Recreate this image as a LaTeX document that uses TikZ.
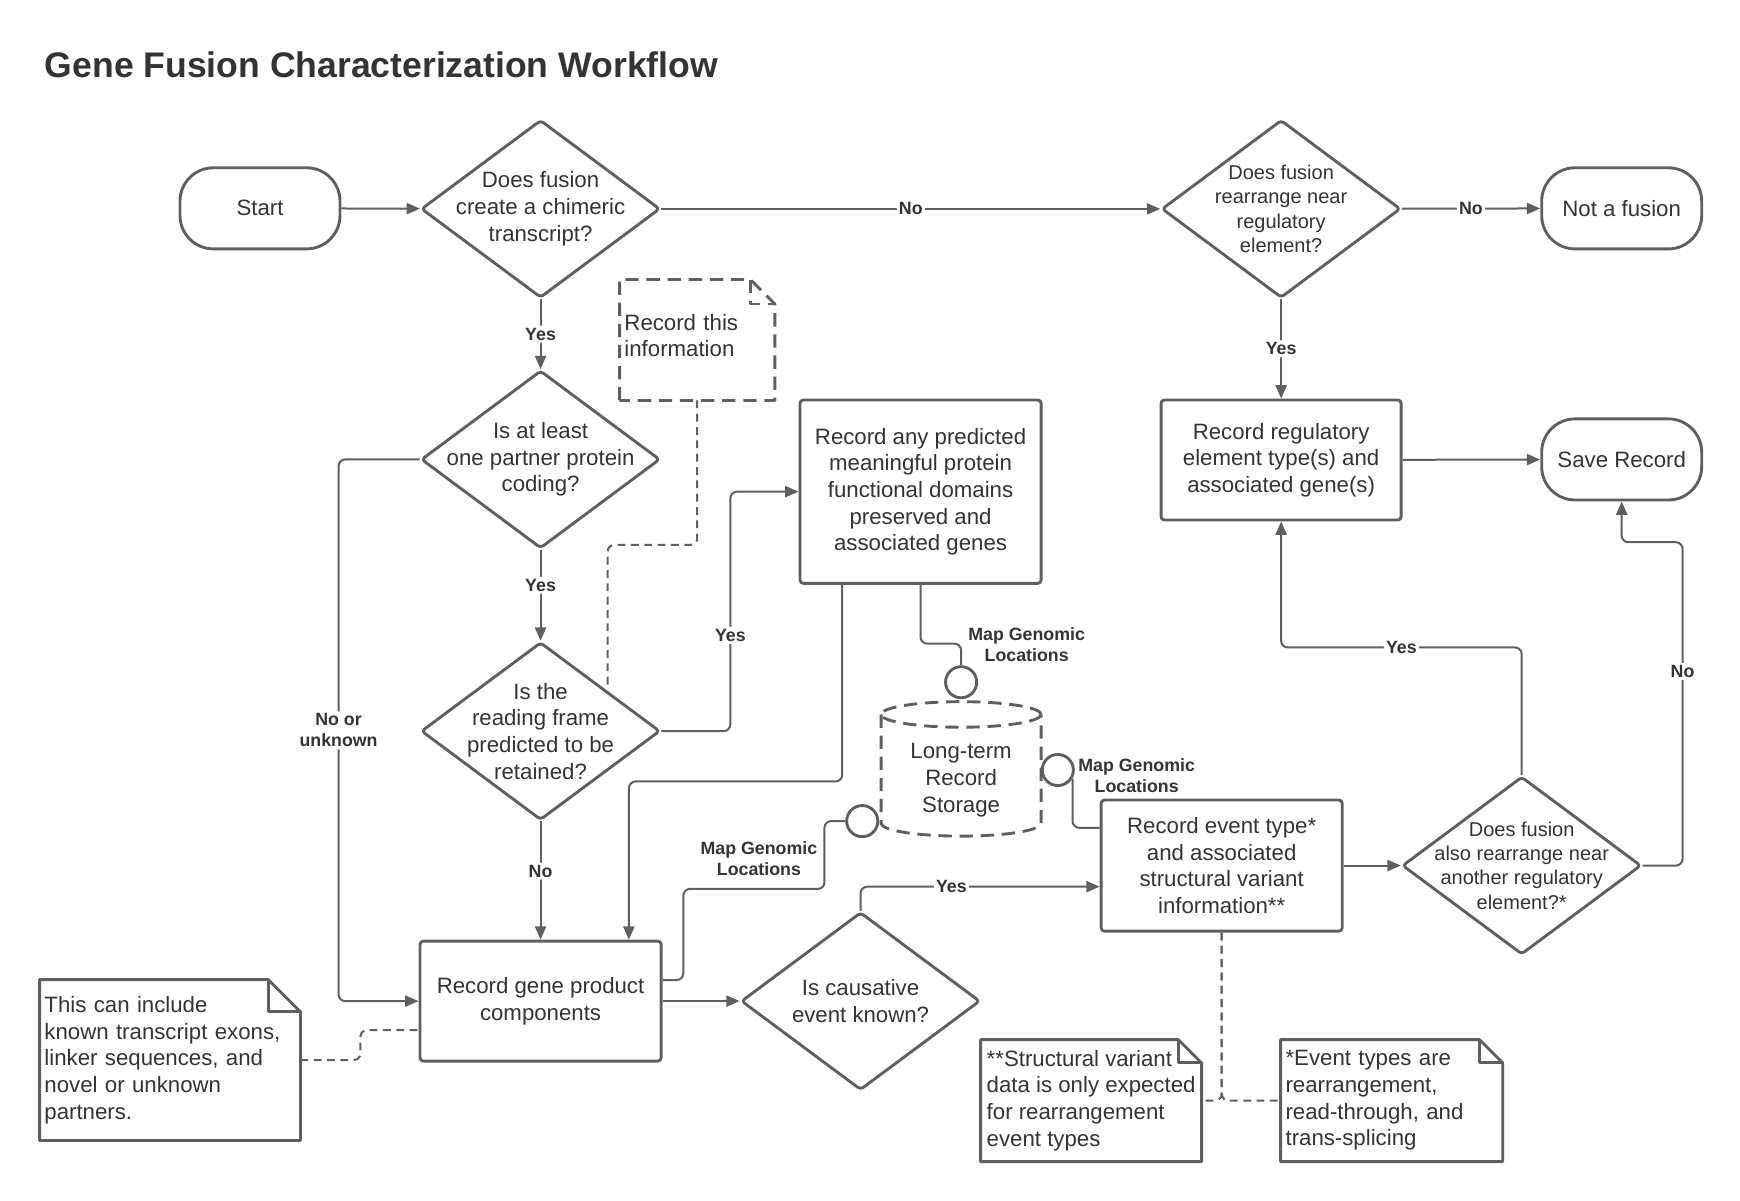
\documentclass[tikz,border=0pt]{standalone}
\usepackage{fontspec}
\setmainfont{Liberation Sans}
\usetikzlibrary{shapes.geometric,arrows.meta,positioning}

\definecolor{linegray}{HTML}{5F5F5F}
\definecolor{textgray}{HTML}{333333}

\begin{document}
\begin{tikzpicture}[x=0.5pt, y=-0.5pt, line join=round,
		every node/.style={text=textgray},
		shape_style/.style={draw=linegray, line width=1.3pt},
		process_style/.style={shape_style, rectangle, rounded corners=1.5pt, align=center, minimum width=108.5pt, font=\fontsize{10}{12}\selectfont},
		term_style/.style={shape_style, rectangle, rounded corners=15pt, minimum width=72pt, minimum height=36.5pt, font=\fontsize{10}{12}\selectfont},
		decision_style/.style={shape_style, diamond, rounded corners=1.5pt, minimum width=107.5pt, minimum height=80pt, inner sep=0pt},
		dtext/.style={align=center, font=\fontsize{10}{12}\selectfont},
		dtext_small/.style={align=center, font=\fontsize{9}{11}\selectfont},
		note_style/.style={rectangle, align=left, inner xsep=2pt, inner ysep=0pt, font=\fontsize{10}{12}\selectfont},
		edge_style/.style={draw=linegray, line width=0.9pt, rounded corners=3pt, -{Triangle[length=6pt,width=5pt]}},
		link_style/.style={draw=linegray, line width=0.9pt, rounded corners=3pt},
		dash_style/.style={draw=linegray, line width=0.9pt, dash pattern=on 3.5pt off 2.5pt, rounded corners=3pt},
		cyl_style/.style={draw=linegray, line width=1.3pt, dash pattern=on 6pt off 3.5pt},
		lbl/.style={fill=white, inner sep=1pt, font=\bfseries\fontsize{8}{9.5}\selectfont, align=center},
		port_style/.style={shape_style, circle, minimum size=14pt, inner sep=0pt, fill=white}]

		\useasboundingbox (0,0) rectangle (1566,1080);

		\node[anchor=west, inner sep=0pt, font=\bfseries\fontsize{16}{19}\selectfont] (title) at (40,58) {Gene Fusion Characterization Workflow};

		% main flow
		\node[term_style] (start) at (234,187.5) {Start};
		\node[decision_style, label={[dtext]center:{Does fusion\\create a chimeric\\transcript?}}] (chim) at (486.5,188) {};
		\node[decision_style, label={[dtext_small]center:{Does fusion\\rearrange near\\regulatory\\element?}}] (regq) at (1153,188) {};
		\node[term_style] (notfus) at (1459.5,187.5) {Not a fusion};
		\node[decision_style, label={[dtext]center:{Is at least\\one partner protein\\coding?}}] (coding) at (486.5,413.5) {};
		\node[decision_style, label={[dtext]center:{Is the\\reading frame\\predicted to be\\retained?}}] (frame) at (486.5,658) {};
		\node[process_style, minimum height=54pt] (prod) at (486.5,901) {Record gene product\\components};
		\node[process_style, minimum height=82.5pt] (domains) at (828.5,442.5) {Record any predicted\\meaningful protein\\functional domains\\preserved and\\associated genes};
		\node[process_style, minimum width=108pt, minimum height=54pt] (regrec) at (1153,414) {Record regulatory\\element type(s) and\\associated gene(s)};
		\node[term_style] (save) at (1459.5,413.5) {Save Record};
		\node[decision_style, label={[dtext]center:{Is causative\\event known?}}] (causal) at (774.5,901) {};
		\node[process_style, minimum height=59pt] (event) at (1099.5,779) {Record event type*\\and associated\\structural variant\\information**};
		\node[decision_style, label={[dtext_small]center:{Does fusion\\also rearrange near\\another regulatory\\element?*}}] (another) at (1369.5,779) {};

		% storage
		\node[align=center, font=\fontsize{10}{12}\selectfont] (store) at (865,702) {Long-term\\Record\\Storage};
		\draw[cyl_style] (865,643) ellipse [x radius=36pt, y radius=5.75pt];
		\draw[cyl_style] (793,643) -- (793,741) arc [start angle=180, end angle=360, x radius=36pt, y radius=5.75pt] -- (937,643);
		\node[port_style] (port_top) at (865,614) {};
		\node[port_style] (port_left) at (776,739) {};
		\node[port_style] (port_right) at (952,693) {};

		% notes
		\node[note_style, text width=65.5pt, minimum height=54pt] (recnote) at (627.5,306) {\raisebox{4pt}{\parbox[b]{65.5pt}{Record this\\information}}};
		\node[note_style, text width=113pt, minimum height=72pt] (incnote) at (153,954) {This can include\\known transcript exons,\\linker sequences, and\\novel or unknown\\partners.};
		\node[note_style, minimum width=99pt, minimum height=54.5pt] (svnote) at (982,990.5) {**Structural variant\\data is only expected\\for rearrangement\\event types};
		\node[note_style, text width=95.5pt, minimum height=54.5pt] (evnote) at (1252.5,990.5) {*Event types are\\rearrangement,\\read-through, and\\trans-splicing};

		\foreach \n/\f in {incnote/14.5pt, svnote/10.5pt, evnote/10.5pt}{
			\draw[shape_style] (\n.south west) -- (\n.north west) -- ([xshift=-\f]\n.north east) -- ([yshift=-\f]\n.north east) -- (\n.south east) -- cycle;
			\draw[shape_style] ([xshift=-\f]\n.north east) |- ([yshift=-\f]\n.north east);
		}
		\draw[cyl_style] (recnote.south west) -- (recnote.north west) -- ([xshift=-11pt]recnote.north east) -- ([yshift=-11pt]recnote.north east) -- (recnote.south east) -- cycle;
		\draw[cyl_style] ([xshift=-11pt]recnote.north east) |- ([yshift=-11pt]recnote.north east);

		% connectors
		\draw[edge_style] (start) -- (chim);
		\draw[edge_style] (chim) -- node[lbl]{No} (regq);
		\draw[edge_style] (regq) -- node[lbl]{No} (notfus);
		\draw[edge_style] (chim) -- node[lbl]{Yes} (coding);
		\draw[edge_style] (coding) -- node[lbl, pos=0.39]{Yes} (frame);
		\draw[edge_style] (frame) -- node[lbl, pos=0.42]{No} (prod);
		\draw[edge_style] (regq) -- node[lbl]{Yes} (regrec);
		\draw[edge_style] (regrec) -- (save);
		\draw[edge_style] (coding.west) -- ++(-73,0) |- node[lbl, pos=0.25]{No or\\unknown} (prod.west);
		\draw[edge_style] (frame.east) -- ++(62,0) |- node[lbl, pos=0.2]{Yes} (domains.west);
		\draw[edge_style] ([xshift=-35.25pt]domains.south) -- ++(0,177) -| ([xshift=39.75pt]prod.north);
		\draw[edge_style] (prod.east) -- (causal);
		\draw[edge_style] (causal.north) |- node[lbl, pos=0.69]{Yes} ([yshift=-9.5pt]event.west);
		\draw[edge_style] (event.east) -- (another);
		\draw[edge_style] (another.north) -- ++(0,-115) -| node[lbl, pos=0.25]{Yes} (regrec.south);
		\draw[edge_style] (another.east) -- ++(36,0) -- node[lbl, pos=0.6]{No} ++(0,-291) -| (save.south);

		% genomic location links
		\draw[link_style] (domains.south) -- ++(0,53) -| (port_top.north);
		\draw[link_style] (port_left.west) -| (742,800) -| (615,882) -- ([yshift=9.5pt]prod.east);
		\draw[link_style] (port_right.-30) |- ([yshift=17pt]event.west);
		\node[lbl, fill=none] (map_top) at (924,580) {Map Genomic\\Locations};
		\node[lbl, fill=none] (map_left) at (683,773) {Map Genomic\\Locations};
		\node[lbl, fill=none] (map_right) at (1023,698) {Map Genomic\\Locations};

		% note links
		\draw[dash_style] (recnote.south) -- ++(0,130) -| ([xshift=3pt]frame.north east);
		\draw[dash_style] (incnote.east) -- ++(54,0) |- ([yshift=-13pt]prod.west);
		\draw[dash_style] (event.south) |- (svnote.east);
		\draw[dash_style] (event.south) |- (evnote.west);
\end{tikzpicture}
\end{document}
